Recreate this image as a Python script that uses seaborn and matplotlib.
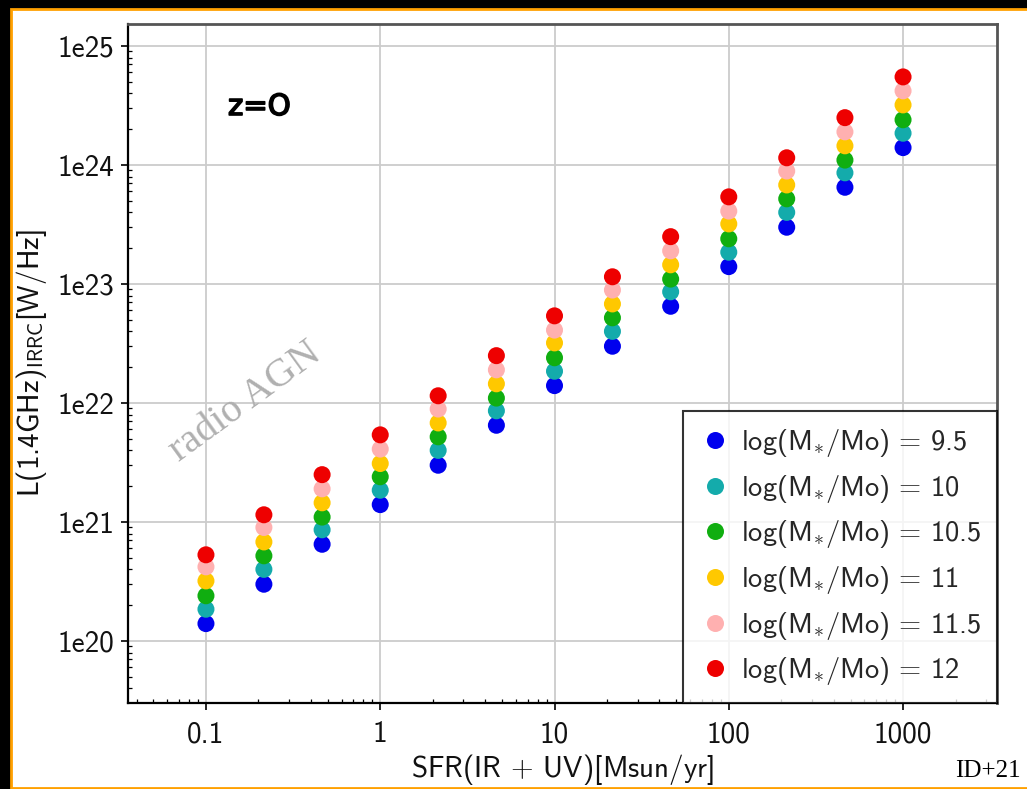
#!/usr/bin/env python3
"""Radio luminosity (IRRC) vs SFR for several stellar masses, z=0."""

import numpy as np
import pandas as pd
import matplotlib
matplotlib.use('Agg')
import matplotlib.pyplot as plt
import matplotlib.patheffects as pe
from matplotlib.patches import Rectangle
from matplotlib.ticker import FixedLocator, LogLocator, NullFormatter
import seaborn as sns

# --- data ---
sfr = [0.1, 0.215, 0.464, 1.0, 2.15, 4.64, 10.0, 21.5, 46.4, 100.0, 215.0, 464.0, 1000.0]

lum_95 = [1.4e20, 3.0e20, 6.5e20, 1.4e21, 3.0e21, 6.5e21, 1.4e22, 3.0e22, 6.5e22,
          1.4e23, 3.0e23, 6.5e23, 1.4e24]
lum_100 = [1.85e20, 4.0e20, 8.6e20, 1.85e21, 4.0e21, 8.6e21, 1.85e22, 4.0e22, 8.6e22,
           1.85e23, 4.0e23, 8.6e23, 1.85e24]
lum_105 = [2.4e20, 5.2e20, 1.1e21, 2.4e21, 5.2e21, 1.1e22, 2.4e22, 5.2e22, 1.1e23,
           2.4e23, 5.2e23, 1.1e24, 2.4e24]
lum_110 = [3.2e20, 6.8e20, 1.45e21, 3.1e21, 6.8e21, 1.45e22, 3.2e22, 6.8e22, 1.45e23,
           3.2e23, 6.8e23, 1.45e24, 3.2e24]
lum_115 = [4.2e20, 9.0e20, 1.9e21, 4.1e21, 8.9e21, 1.9e22, 4.1e22, 8.9e22, 1.9e23,
           4.1e23, 8.9e23, 1.9e24, 4.2e24]
lum_120 = [5.3e20, 1.15e21, 2.5e21, 5.4e21, 1.15e22, 2.5e22, 5.4e22, 1.15e23, 2.5e23,
           5.4e23, 1.15e24, 2.5e24, 5.5e24]

mass_labels = ['9.5', '10', '10.5', '11', '11.5', '12']
mass_colors = ['#0000ee', '#14abab', '#10ae10', '#ffc800', '#ffb0b0', '#ee0000']

x_ticks = [0.1, 1, 10, 100, 1000]
x_tick_labels = ['0.1', '1', '10', '100', '1000']
y_ticks = [1e20, 1e21, 1e22, 1e23, 1e24, 1e25]
y_tick_labels = ['1e20', '1e21', '1e22', '1e23', '1e24', '1e25']

# --- tidy table for seaborn ---
series = [lum_95, lum_100, lum_105, lum_110, lum_115, lum_120]
hue_order = [r'log(M$_{*}$/Mo)$\,=\,$' + lab for lab in mass_labels]
rows = []
for name, lum in zip(hue_order, series):
    for s, l in zip(sfr, lum):
        rows.append({'sfr': s, 'lum': l, 'mass': name})
df = pd.DataFrame(rows)

sns.set_theme(style='white')
plt.rcParams['font.family'] = ['cmss10', 'DejaVu Sans']
plt.rcParams['mathtext.fontset'] = 'cm'
plt.rcParams['axes.formatter.use_mathtext'] = True

fig = plt.figure(figsize=(10.27, 7.89), dpi=100)
fig.patch.set_facecolor('black')
# white slide panel with orange edge
panel = Rectangle((10.5 / 1027, 1.5 / 789), 1.1, 779 / 789,
                  transform=fig.transFigure, facecolor='white',
                  edgecolor='#ffa000', linewidth=2.0, zorder=-10)
fig.add_artist(panel)

ax = fig.add_axes([128 / 1027, 1 - 703 / 789, 869 / 1027, 679 / 789])
ax.set_zorder(1)
ax.set_facecolor('white')

sns.scatterplot(data=df, x='sfr', y='lum', hue='mass', hue_order=hue_order,
                palette=mass_colors, s=150, linewidth=0, ax=ax, zorder=3)

ax.set_xscale('log')
ax.set_yscale('log')
ax.set_xlim(0.0357, 3460)
ax.set_ylim(10 ** 19.479, 10 ** 25.185)

ax.xaxis.set_major_locator(FixedLocator(x_ticks))
ax.set_xticklabels(x_tick_labels)
ax.yaxis.set_major_locator(FixedLocator(y_ticks))
ax.set_yticklabels(y_tick_labels)
ax.xaxis.set_minor_locator(LogLocator(base=10, subs=np.arange(2, 10)))
ax.yaxis.set_minor_locator(LogLocator(base=10, subs=np.arange(2, 10)))
ax.xaxis.set_minor_formatter(NullFormatter())
ax.yaxis.set_minor_formatter(NullFormatter())

ax.tick_params(which='major', direction='out', length=5, width=1.2,
               labelsize=21, color='black', labelcolor='#111111')
ax.tick_params(axis='x', which='major', pad=8)
ax.tick_params(axis='y', which='major', pad=5)
ax.tick_params(which='minor', direction='in', length=3, width=0.9, color='black')
ax.tick_params(bottom=True, left=True, which='both')

ax.grid(True, which='major', color='#cccccc', linewidth=1.3)
ax.set_axisbelow(True)

for side in ['left', 'bottom']:
    ax.spines[side].set_color('black')
    ax.spines[side].set_linewidth(1.6)
for side in ['top', 'right']:
    ax.spines[side].set_color('#555555')
    ax.spines[side].set_linewidth(2.0)

ax.set_xlabel(r'SFR(IR $+$ UV)[Msun/yr]', fontsize=21, color='#111111', labelpad=3)
ax.set_ylabel(r'L(1.4GHz)$_{\mathsf{IRRC}}$[W/Hz]', fontsize=21, color='#111111', labelpad=6)

leg = ax.legend(loc='lower right', bbox_to_anchor=(1.0, 0.0), borderaxespad=0,
                frameon=True, fancybox=False, fontsize=20.5, markerscale=1.0,
                handletextpad=0.3, labelspacing=0.48, borderpad=0.55,
                handlelength=1.2, title=None)
leg.get_frame().set_edgecolor('black')
leg.get_frame().set_linewidth(1.5)
leg.set_zorder(5)

ax.text((228 - 128) / 869, (703 - 107) / 679, 'z=O', transform=ax.transAxes,
        fontsize=21, family=['DejaVu Sans'], color='black',
        ha='left', va='center',
        path_effects=[pe.withStroke(linewidth=1.2, foreground='black')])
ax.text((245 - 128) / 869, (703 - 402) / 679, 'radio AGN', transform=ax.transAxes,
        fontsize=29, family=['Liberation Serif', 'DejaVu Serif'], color='#b0b0b0',
        rotation=36, ha='center', va='center', zorder=2)
fig.text(1021 / 1027, 1 - 771 / 789, 'ID+21', fontsize=18,
         family=['Liberation Serif', 'DejaVu Serif'], color='black',
         ha='right', va='center')

fig.savefig('out.png', dpi=100, facecolor=fig.get_facecolor())
